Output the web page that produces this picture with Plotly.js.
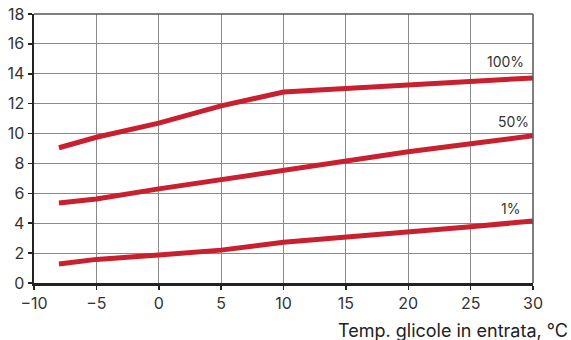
<!DOCTYPE html>
<html><head><meta charset="utf-8">
<script src="https://cdn.plot.ly/plotly-3.0.1.min.js"></script>
<style>html,body{margin:0;padding:0;background:#fff}#c{width:571px;height:340px}</style>
</head><body><div id="c"></div>
<script>
const temps = [-8, -5, 0, 5, 10, 15, 20, 25, 30];
const s100 = [9.05, 9.75, 10.7, 11.85, 12.78, 13.0, 13.22, 13.48, 13.72];
const s50 = [5.35, 5.62, 6.3, 6.93, 7.56, 8.17, 8.78, 9.32, 9.85];
const s1 = [1.27, 1.58, 1.87, 2.2, 2.72, 3.04, 3.37, 3.76, 4.15];
const seriesNames = ["100%", "50%", "1%"];
const labelPos = [[27.8, 14.8], [28.4, 10.8], [28.2, 5.0]];
const xTicks = [-10, -5, 0, 5, 10, 15, 20, 25, 30];
const yTicks = [0, 2, 4, 6, 8, 10, 12, 14, 16, 18];
const xTitle = 'Temp. glicole in entrata, °C';

const red = '#c8202e';
const all = [s100, s50, s1];
const traces = all.map((ys, i) => ({
  x: temps, y: ys, type: 'scatter', mode: 'lines', name: seriesNames[i],
  line: {color: red, width: 5}, hoverinfo: 'none'
}));
const font = {family: 'Inter, "Open Sans", sans-serif', color: '#333', size: 16};
const annots = seriesNames.map((n, i) => ({
  x: labelPos[i][0], y: labelPos[i][1], text: n, showarrow: false,
  font: {size: 14, color: '#333'}, xanchor: 'center', yanchor: 'middle'
}));
annots.push({
  xref: 'paper', yref: 'paper', x: 1.074, y: -0.175, xanchor: 'right', yanchor: 'middle',
  text: xTitle, showarrow: false, font: {size: 18, color: '#222'}
});
const layout = {
  width: 571, height: 340,
  margin: {l: 34, r: 38, t: 14, b: 57},
  paper_bgcolor: '#fff', plot_bgcolor: '#fff',
  showlegend: false,
  font: font,
  xaxis: {
    range: [-10, 30], tickvals: xTicks, ticktext: xTicks.map(v => v < 0 ? '\u2212' + Math.abs(v) : String(v)),
    showgrid: true, gridcolor: '#8a8a8a', gridwidth: 1,
    showline: true, linecolor: '#222', linewidth: 2.5,
    ticks: 'outside', ticklen: 4, tickcolor: '#222', tickwidth: 1.5,
    zeroline: false, tickfont: {size: 16, color: '#333'},
    fixedrange: true
  },
  yaxis: {
    range: [0, 18], tickvals: yTicks,
    showgrid: true, gridcolor: '#8a8a8a', gridwidth: 1,
    showline: true, linecolor: '#222', linewidth: 2.5,
    ticks: 'outside', ticklen: 4, tickcolor: '#222', tickwidth: 1.5,
    zeroline: false, tickfont: {size: 16, color: '#333'},
    fixedrange: true
  },
  shapes: [
    {type: 'line', xref: 'paper', yref: 'paper', x0: 0, x1: 1, y0: 1, y1: 1, line: {color: '#555', width: 1.5}},
    {type: 'line', xref: 'paper', yref: 'paper', x0: 1, x1: 1, y0: 0, y1: 1, line: {color: '#555', width: 1.5}}
  ],
  annotations: annots
};
Plotly.newPlot('c', traces, layout, {staticPlot: true});
</script></body></html>
